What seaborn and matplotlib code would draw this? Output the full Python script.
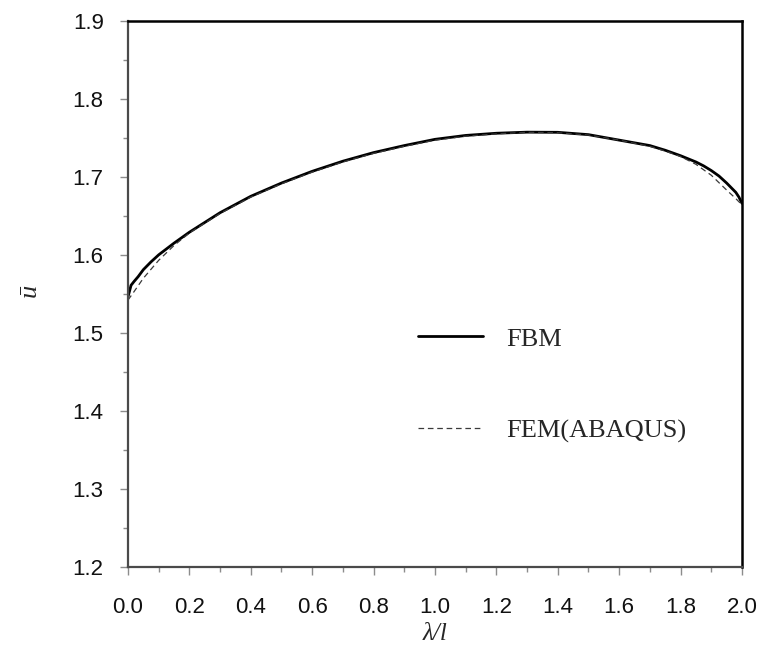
import numpy as np
import pandas as pd
import matplotlib
matplotlib.use("Agg")
import matplotlib.pyplot as plt
from matplotlib.ticker import MultipleLocator
import seaborn as sns

# ---- data ----
lam_fbm = [0.0, 0.01, 0.02, 0.033, 0.05, 0.075, 0.1, 0.15, 0.2, 0.3, 0.4, 0.5,
           0.6, 0.7, 0.8, 0.9, 1.0, 1.1, 1.2, 1.3, 1.4, 1.5, 1.6, 1.7, 1.75,
           1.8, 1.85, 1.875, 1.9, 1.925, 1.95, 1.965, 1.98, 1.99, 2.0]
u_fbm = [1.546, 1.561, 1.566, 1.572, 1.581, 1.591, 1.600, 1.615, 1.629, 1.654,
         1.675, 1.692, 1.707, 1.720, 1.731, 1.740, 1.748, 1.753, 1.7558,
         1.7572, 1.757, 1.754, 1.747, 1.740, 1.734, 1.727, 1.719, 1.714,
         1.708, 1.701, 1.692, 1.686, 1.680, 1.674, 1.666]

lam_fem = [0.0, 0.02, 0.05, 0.1, 0.15, 0.2, 0.3, 0.4, 0.5, 0.6, 0.7, 0.8, 0.9,
           1.0, 1.1, 1.2, 1.3, 1.4, 1.5, 1.6, 1.7, 1.75, 1.8, 1.85, 1.9, 1.95,
           1.98, 2.0]
u_fem = [1.542, 1.553, 1.570, 1.593, 1.612, 1.628, 1.653, 1.674, 1.691, 1.706,
         1.719, 1.730, 1.739, 1.747, 1.752, 1.755, 1.757, 1.7565, 1.7535,
         1.747, 1.739, 1.733, 1.726, 1.716, 1.702, 1.683, 1.672, 1.664]

x_ticks = [0.0, 0.2, 0.4, 0.6, 0.8, 1.0, 1.2, 1.4, 1.6, 1.8, 2.0]
x_tick_labels = ["0.0", "0.2", "0.4", "0.6", "0.8", "1.0", "1.2", "1.4", "1.6", "1.8", "2.0"]
y_ticks = [1.2, 1.3, 1.4, 1.5, 1.6, 1.7, 1.8, 1.9]
y_tick_labels = ["1.2", "1.3", "1.4", "1.5", "1.6", "1.7", "1.8", "1.9"]

series_names = ["FBM", "FEM(ABAQUS)"]

# ---- style ----
sns.set_style("ticks")
plt.rcParams["font.family"] = ["Liberation Sans", "DejaVu Sans"]

fig = plt.figure(figsize=(7.6, 6.49), dpi=100)
ax = fig.add_axes([0.1684, 0.1263, 0.8079, 0.8418])

df_fbm = pd.DataFrame({"lam": lam_fbm, "u": u_fbm})
df_fem = pd.DataFrame({"lam": lam_fem, "u": u_fem})

sns.lineplot(data=df_fbm, x="lam", y="u", ax=ax, color="black", lw=2.0,
             label=series_names[0], estimator=None, sort=False)
sns.lineplot(data=df_fem, x="lam", y="u", ax=ax, color="#3a3a3a", lw=0.9,
             linestyle=(0, (4.5, 3.0)), label=series_names[1],
             estimator=None, sort=False)

ax.set_xlim(0, 2.0)
ax.set_ylim(1.2, 1.9)
ax.set_xticks(x_ticks)
ax.set_xticklabels(x_tick_labels)
ax.set_yticks(y_ticks)
ax.set_yticklabels(y_tick_labels)
ax.xaxis.set_minor_locator(MultipleLocator(0.1))
ax.yaxis.set_minor_locator(MultipleLocator(0.05))

ax.tick_params(which="major", direction="out", length=5.5, width=1.0,
               color="#8c8c8c", labelsize=16, labelcolor="#111111")
ax.tick_params(which="minor", direction="out", length=3.5, width=1.0,
               color="#8c8c8c")
ax.tick_params(axis="x", which="major", pad=16)
ax.tick_params(axis="y", which="major", pad=12)

for side in ["left", "bottom"]:
    ax.spines[side].set_color("#4a4a4a")
    ax.spines[side].set_linewidth(1.6)
for side in ["top", "right"]:
    ax.spines[side].set_color("black")
    ax.spines[side].set_linewidth(1.8)
    ax.spines[side].set_visible(True)

ax.set_xlabel("λ/l", fontfamily=["Liberation Serif", "DejaVu Serif"],
              fontstyle="italic", fontsize=18)
ax.xaxis.set_label_coords(0.5, -0.122)
ax.xaxis.label.set_verticalalignment("center")

ax.set_ylabel("ū", fontfamily=["Liberation Serif", "DejaVu Serif"],
              fontstyle="italic", fontsize=19)
ax.yaxis.set_label_coords(-0.16, 0.507)
ax.yaxis.label.set_verticalalignment("center")

leg = ax.legend(loc="center left", bbox_to_anchor=(0.472, 0.333),
                frameon=False, borderpad=0, borderaxespad=0,
                handlelength=2.46, handletextpad=0.9, labelspacing=2.6,
                prop={"family": "Liberation Serif", "size": 19})

fig.savefig("out.png", dpi=100)
